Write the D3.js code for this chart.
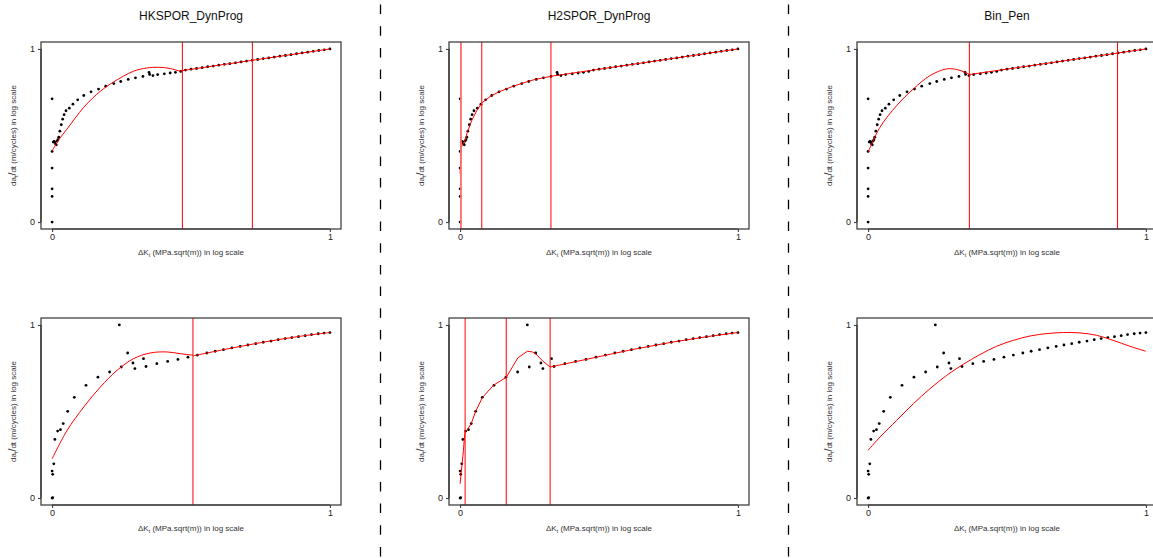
<!DOCTYPE html>
<html><head><meta charset="utf-8">
<script src="https://cdn.jsdelivr.net/npm/d3@7"></script>
<style>body{margin:0;background:#fff}svg{display:block}text{font-family:"Liberation Sans",Arial,sans-serif}</style>
</head><body><svg id="c" width="1153" height="558"></svg>
<script>
// ---------- data ----------
const panelTitles = ["HKSPOR_DynProg", "H2SPOR_DynProg", "Bin_Pen"];
const xTicks = [0, 1];
const yTicks = [0, 1];

// observed points, top row
const topX = [0,0,0,0,0,0,
  0.004,0.007,0.010,0.012,0.015,0.018,0.021,0.024,
  0.028,0.033,0.038,0.043,0.050,0.062,0.075,0.092,0.114,0.140,0.167,0.193,0.222,0.247,0.274,0.300,0.327,
  0.349,0.351,0.363,0.380,0.404,0.425,0.444,0.463,
  0.48,0.50,0.52,0.54,0.56,0.58,0.60,0.62,0.64,0.66,0.68,0.70,0.72,0.74,0.76,0.78,0.80,0.82,0.84,0.86,0.88,0.90,0.92,0.94,0.96,0.98,1.00];
const topY = [0,0.148,0.192,0.312,0.408,0.712,
  0.462,0.466,0.462,0.452,0.446,0.468,0.476,0.490,
  0.525,0.562,0.594,0.620,0.643,0.658,0.681,0.706,0.731,0.752,0.768,0.785,0.800,0.812,0.824,0.833,0.841,
  0.864,0.853,0.846,0.852,0.856,0.861,0.865,0.870,
  0.878,0.883,0.887,0.892,0.897,0.901,0.906,0.911,0.915,0.920,0.925,0.930,0.934,0.939,0.944,0.948,0.953,0.958,0.962,0.967,0.972,0.977,0.981,0.986,0.991,0.995,1.000];

// observed points, bottom row
const botX = [0,0.002,0,0.002,0.006,0.010,0.020,0.030,0.040,0.056,0.080,0.122,0.165,0.207,0.242,0.249,0.272,0.291,0.298,0.329,0.338,
  0.377,0.416,0.453,0.489,0.523,0.557,0.587,0.617,0.647,0.677,0.705,0.733,0.760,0.788,0.814,0.839,0.863,0.887,0.911,0.934,0.958,0.979,1.000];
const botY = [0,0.002,0.156,0.137,0.198,0.339,0.387,0.395,0.430,0.501,0.582,0.651,0.698,0.728,1.000,0.757,0.838,0.780,0.748,0.805,0.760,
  0.776,0.789,0.801,0.814,0.826,0.838,0.848,0.857,0.867,0.876,0.884,0.892,0.900,0.907,0.915,0.921,0.927,0.932,0.938,0.944,0.949,0.953,0.956];

// fitted curves (a repeated x marks a segment break)
const hkTopFitX = [0,0.024,0.054,0.114,0.174,0.222,0.293,0.341,0.383,0.425,0.461,0.469, 0.469,1.0];
const hkTopFitY = [0.411,0.475,0.538,0.663,0.756,0.810,0.871,0.890,0.894,0.887,0.872,0.873, 0.875,1.0];
const hkTopBreaks = [0.469, 0.721];

const h2TopFitX = [0,0.002,0.004, 0.004,0.010,0.018,0.026,0.042,0.060,0.078, 0.078,0.094,0.114,0.140,0.166,0.192,0.221,0.246,0.273,0.300,0.327, 0.327,1.0];
const h2TopFitY = [0.279,0.360,0.433, 0.433,0.450,0.471,0.519,0.587,0.644,0.688, 0.688,0.708,0.731,0.752,0.769,0.785,0.800,0.813,0.825,0.833,0.842, 0.842,1.0];
const h2TopBreaks = [0.003, 0.078, 0.327];

const binTopFitX = [0,0.043,0.103,0.163,0.223,0.283,0.319,0.349,0.3645, 0.3645,0.898, 0.898,1.0];
const binTopFitY = [0.404,0.548,0.673,0.769,0.846,0.885,0.881,0.865,0.852, 0.852,0.976, 0.976,1.0];
const binTopBreaks = [0.3645, 0.898];

const hkBotFitX = [0,0.054,0.114,0.174,0.234,0.293,0.353,0.413,0.461,0.507, 0.507,0.617,0.760,0.886,1.0];
const hkBotFitY = [0.227,0.391,0.526,0.642,0.738,0.805,0.838,0.844,0.834,0.825, 0.821,0.857,0.900,0.933,0.956];
const hkBotBreaks = [0.507];

const h2BotFitX = [0,0.0024,0.006,0.012,0.0156,0.018, 0.018,0.026,0.040,0.056,0.080,0.121,0.166, 0.166,0.208,0.242,0.260,0.272,0.299,0.324, 0.324,0.378,0.489,0.618,0.761,0.888,1.0];
const h2BotFitY = [0.083,0.121,0.179,0.275,0.353,0.382, 0.382,0.395,0.430,0.501,0.580,0.653,0.697, 0.697,0.810,0.848,0.844,0.834,0.789,0.757, 0.757,0.775,0.813,0.857,0.900,0.932,0.956];
const h2BotBreaks = [0.018, 0.166, 0.324];

const binBotFitX = [0,0.043,0.103,0.163,0.223,0.283,0.343,0.403,0.463,0.523,0.583,0.643,0.703,0.763,0.823,0.882,0.942,1.0];
const binBotFitY = [0.276,0.353,0.449,0.545,0.632,0.709,0.773,0.829,0.877,0.911,0.936,0.950,0.956,0.954,0.940,0.911,0.877,0.848];
const binBotBreaks = [];

// ---------- layout ----------
const svg = d3.select("#c");
svg.append("rect").attr("width",1153).attr("height",558).attr("fill","#fff");

const colX = [41, 449, 857];
const rowY = [42, 318];
const boxW = 300, boxH = 187;

const panels = [
  {row:0,col:0,title:panelTitles[0],px:topX,py:topY,fx:hkTopFitX,fy:hkTopFitY,br:hkTopBreaks,curve:d3.curveCatmullRom},
  {row:0,col:1,title:panelTitles[1],px:topX,py:topY,fx:h2TopFitX,fy:h2TopFitY,br:h2TopBreaks,curve:d3.curveLinear},
  {row:0,col:2,title:panelTitles[2],px:topX,py:topY,fx:binTopFitX,fy:binTopFitY,br:binTopBreaks,curve:d3.curveCatmullRom},
  {row:1,col:0,title:null,px:botX,py:botY,fx:hkBotFitX,fy:hkBotFitY,br:hkBotBreaks,curve:d3.curveCatmullRom},
  {row:1,col:1,title:null,px:botX,py:botY,fx:h2BotFitX,fy:h2BotFitY,br:h2BotBreaks,curve:d3.curveLinear},
  {row:1,col:2,title:null,px:botX,py:botY,fx:binBotFitX,fy:binBotFitY,br:binBotBreaks,curve:d3.curveCatmullRom}
];

// dashed separators
[380.5, 788.5].forEach(xx => {
  svg.append("line").attr("x1",xx).attr("x2",xx).attr("y1",0).attr("y2",558)
    .attr("stroke","#000").attr("stroke-width",1.3)
    .attr("stroke-dasharray","9.5,12.2").attr("stroke-dashoffset",-4.5);
});

panels.forEach((p,i) => {
  const left = colX[p.col], top = rowY[p.row];
  const x = d3.scaleLinear().domain([-0.04,1.04]).range([left,left+boxW]);
  const y = d3.scaleLinear().domain([-0.04,1.04]).range([top+boxH, top]);
  const g = svg.append("g");
  const clipId = "clip"+i;
  svg.append("clipPath").attr("id",clipId).append("rect")
    .attr("x",left).attr("y",top).attr("width",boxW).attr("height",boxH);

  // axes
  const ya = g.append("g").attr("transform",`translate(${left},0)`)
    .call(d3.axisLeft(y).tickValues(yTicks).tickSize(3).tickPadding(3).tickFormat(d3.format("d")));
  const xa = g.append("g").attr("transform",`translate(0,${top+boxH})`)
    .call(d3.axisBottom(x).tickValues(xTicks).tickSize(3).tickPadding(2).tickFormat(d3.format("d")));
  [ya,xa].forEach(a => {
    a.select(".domain").remove();
    a.selectAll("line").attr("stroke","#333");
    a.selectAll("text").attr("font-size",9).attr("fill","#222").style("font-family",'"Liberation Sans",Arial,sans-serif');
  });
  g.append("line").attr("x1",left).attr("x2",left).attr("y1",y(0)).attr("y2",y(1)).attr("stroke","#333").attr("stroke-width",1.2);
  g.append("line").attr("x1",x(0)).attr("x2",x(1)).attr("y1",top+boxH).attr("y2",top+boxH).attr("stroke","#333").attr("stroke-width",1.2);

  // points
  g.append("g").selectAll("circle").data(p.px.map((v,k)=>[v,p.py[k]])).join("circle")
    .attr("cx",d=>x(d[0])).attr("cy",d=>y(d[1])).attr("r",1.4).attr("fill","#000");

  // fitted curve segments
  const segs = [];
  let cur = [];
  p.fx.forEach((v,k) => {
    if (k>0 && v === p.fx[k-1]) { segs.push(cur); cur = []; }
    cur.push([v,p.fy[k]]);
  });
  segs.push(cur);
  const line = d3.line().x(d=>x(d[0])).y(d=>y(d[1])).curve(p.curve);
  const fg = g.append("g").attr("clip-path",`url(#${clipId})`);
  segs.forEach(s => {
    fg.append("path").attr("d",line(s)).attr("fill","none").attr("stroke","#ff0000").attr("stroke-width",1);
  });
  // breakpoints
  p.br.forEach(b => {
    const near0 = b < 0.01;
    fg.append("line").attr("x1",x(b)).attr("x2",x(b)).attr("y1",top).attr("y2",top+boxH)
      .attr("stroke", near0 ? "#ff6a6a" : "#ff0000").attr("stroke-width", near0 ? 1.8 : 1);
  });

  // box
  g.append("rect").attr("x",left).attr("y",top).attr("width",boxW).attr("height",boxH)
    .attr("fill","none").attr("stroke","#333").attr("stroke-width",1.2);

  // title
  if (p.title) {
    g.append("text").attr("x",left+boxW/2).attr("y",20).attr("text-anchor","middle")
      .attr("font-size",12).attr("fill","#111").text(p.title);
  }
  // x label
  const xl = g.append("text").attr("x",left+boxW/2).attr("y",top+boxH+26).attr("text-anchor","middle")
    .attr("font-size",8).attr("fill","#333");
  xl.append("tspan").text("\u0394K");
  xl.append("tspan").attr("font-size",5.5).attr("dy",1.5).text("t");
  xl.append("tspan").attr("dy",-1.5).text(" (MPa.sqrt(m)) in log scale");
  // y label
  const yl = g.append("text").attr("transform",`translate(${left-25},${top+boxH/2}) rotate(-90)`)
    .attr("text-anchor","middle").attr("font-size",8).attr("fill","#333");
  yl.append("tspan").text("da");
  yl.append("tspan").attr("font-size",5.5).attr("dy",1.5).text("t");
  yl.append("tspan").attr("dy",-1.5).attr("font-size",10.5).text("/");
  yl.append("tspan").attr("font-size",8).text("dt (m/cycles) in log scale");
});
</script></body></html>
